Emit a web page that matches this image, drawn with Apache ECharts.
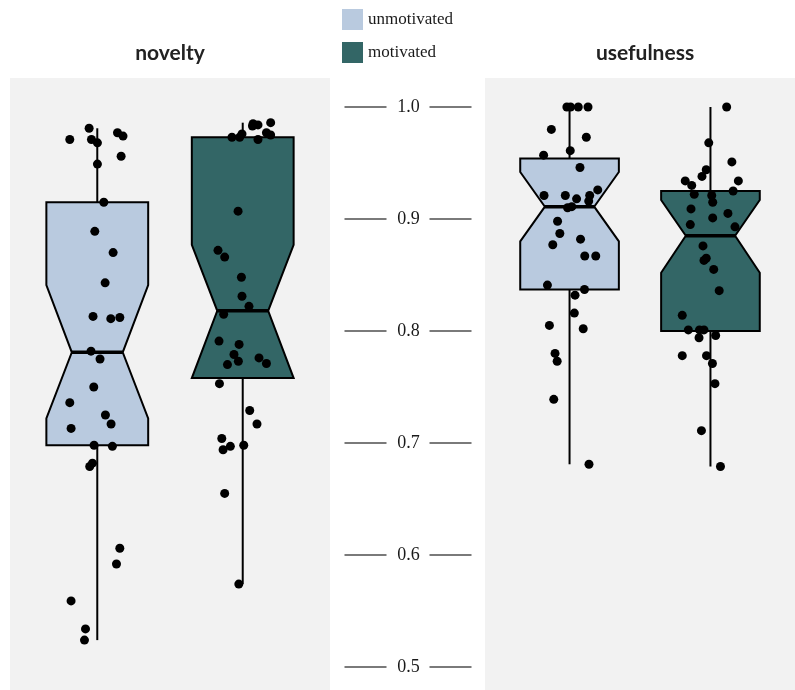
<!DOCTYPE html>
<html>
<head>
<meta charset="utf-8">
<script src="https://cdn.jsdelivr.net/npm/echarts@6/dist/echarts.min.js"></script>
<style>
html, body { margin: 0; padding: 0; background: #ffffff; }
#chart { width: 795px; height: 690px; }
</style>
</head>
<body>
<div id="chart"></div>
<script>
// ---- data ----
const panels = ['novelty', 'usefulness'];
const groups = ['unmotivated', 'motivated'];
const groupColors = ['#b9cadf', '#336666'];
const yTicks = [0.5, 0.6, 0.7, 0.8, 0.9, 1.0];
const yTickLabels = ['0.5', '0.6', '0.7', '0.8', '0.9', '1.0'];

// box summaries: [lower whisker, Q1, notch low, median, notch high, Q3, upper whisker]
const noveltyUnmotivatedBox = [0.524, 0.698, 0.722, 0.781, 0.841, 0.915, 0.981];
const noveltyMotivatedBox   = [0.574, 0.758, 0.758, 0.818, 0.877, 0.973, 0.986];
const usefulUnmotivatedBox  = [0.681, 0.837, 0.880, 0.911, 0.942, 0.954, 1.000];
const usefulMotivatedBox    = [0.679, 0.800, 0.852, 0.885, 0.917, 0.925, 1.000];

// individual ratings
const noveltyUnmotivated = [0.971, 0.981, 0.971, 0.968, 0.977, 0.974, 0.956, 0.949, 0.915, 0.889,
  0.870, 0.843, 0.813, 0.811, 0.812, 0.782, 0.775, 0.750, 0.736, 0.725, 0.717, 0.713, 0.698,
  0.697, 0.682, 0.679, 0.606, 0.592, 0.559, 0.534, 0.524];
const noveltyMotivated = [0.973, 0.973, 0.976, 0.985, 0.984, 0.983, 0.986, 0.977, 0.975, 0.971,
  0.907, 0.872, 0.866, 0.848, 0.831, 0.822, 0.815, 0.791, 0.788, 0.779, 0.773, 0.770, 0.776,
  0.771, 0.753, 0.729, 0.717, 0.704, 0.694, 0.697, 0.698, 0.655, 0.574];
const usefulUnmotivated = [1.000, 1.000, 1.000, 1.000, 0.980, 0.973, 0.961, 0.957, 0.946, 0.921,
  0.921, 0.918, 0.921, 0.916, 0.926, 0.910, 0.911, 0.898, 0.887, 0.882, 0.877, 0.867, 0.867,
  0.841, 0.837, 0.832, 0.816, 0.805, 0.802, 0.780, 0.773, 0.739, 0.681];
const usefulMotivated = [1.000, 0.968, 0.951, 0.944, 0.938, 0.934, 0.930, 0.934, 0.925, 0.922,
  0.921, 0.915, 0.909, 0.905, 0.901, 0.895, 0.893, 0.876, 0.865, 0.863, 0.855, 0.836, 0.814,
  0.801, 0.801, 0.801, 0.794, 0.796, 0.778, 0.778, 0.771, 0.753, 0.711, 0.679];

// horizontal jitter of each rating, in category units
const noveltyUnmotivatedJitter = [-0.189, -0.056, -0.040, 0.001, 0.139, 0.177, 0.164, 0.001, 0.045,
  -0.017, 0.109, 0.054, -0.029, 0.093, 0.155, -0.043, 0.019, -0.024, -0.189, 0.056, 0.095, -0.180,
  -0.022, 0.104, -0.033, -0.052, 0.155, 0.132, -0.180, -0.081, -0.088];
const noveltyMotivatedJitter = [-0.074, -0.021, -0.005, 0.071, 0.105, 0.067, 0.192, 0.163, 0.192,
  0.105, -0.032, -0.170, -0.124, -0.009, -0.005, 0.043, -0.131, -0.163, -0.025, -0.060, -0.030,
  -0.105, 0.112, 0.163, -0.160, 0.048, 0.098, -0.144, -0.135, -0.085, 0.007, -0.124, -0.027];
const usefulUnmotivatedJitter = [-0.019, 0.007, 0.062, 0.131, -0.129, 0.119, 0.005, -0.184, 0.074,
  -0.181, -0.030, 0.050, 0.143, 0.136, 0.200, -0.014, 0.016, -0.085, -0.069, 0.078, -0.119, 0.108,
  0.186, -0.157, 0.106, 0.039, 0.034, -0.143, 0.097, -0.103, -0.088, -0.112, 0.138];
const usefulMotivatedJitter = [0.115, -0.012, 0.152, -0.030, -0.060, -0.179, -0.133, 0.198, 0.161,
  -0.115, 0.009, 0.016, -0.138, 0.124, 0.016, -0.143, 0.174, -0.053, -0.030, -0.046, 0.023, 0.062,
  -0.200, -0.157, -0.078, -0.046, -0.081, 0.037, -0.200, -0.028, 0.014, 0.032, -0.064, 0.071];

// ---- layout ----
const Y_MIN = 0.47946, Y_MAX = 1.02589;
const BOX_HALF = 0.35;       // half box width, category units
const NOTCH_HALF = 0.175;    // half width at the median notch
const panelGridIdx = [0, 2];

const chart = echarts.init(document.getElementById('chart'), null, { renderer: 'canvas' });

function renderBox(params, api) {
  const cx = api.value(0);
  const v = [1, 2, 3, 4, 5, 6, 7].map(i => api.value(i));
  const [low, q1, nlo, med, nhi, q3, high] = v;
  const p = (x, y) => api.coord([x, y]);
  const color = api.visual('color');
  const poly = [
    p(cx - BOX_HALF, q3), p(cx + BOX_HALF, q3), p(cx + BOX_HALF, nhi), p(cx + NOTCH_HALF, med),
    p(cx + BOX_HALF, nlo), p(cx + BOX_HALF, q1), p(cx - BOX_HALF, q1), p(cx - BOX_HALF, nlo),
    p(cx - NOTCH_HALF, med), p(cx - BOX_HALF, nhi)
  ];
  const lineStyle = { stroke: '#000', lineWidth: 2, fill: null };
  const top = p(cx, q3), hi = p(cx, high), bot = p(cx, q1), lo = p(cx, low);
  const mL = p(cx - NOTCH_HALF, med), mR = p(cx + NOTCH_HALF, med);
  return {
    type: 'group',
    children: [
      { type: 'line', shape: { x1: top[0], y1: top[1], x2: hi[0], y2: hi[1] }, style: lineStyle },
      { type: 'line', shape: { x1: bot[0], y1: bot[1], x2: lo[0], y2: lo[1] }, style: lineStyle },
      { type: 'polygon', shape: { points: poly }, style: { fill: color, stroke: '#000', lineWidth: 2, lineJoin: 'miter' } },
      { type: 'line', shape: { x1: mL[0], y1: mL[1], x2: mR[0], y2: mR[1] }, style: { stroke: '#000', lineWidth: 3.5 } }
    ]
  };
}

function renderTicks(params, api) {
  const c = api.coord([0.5, api.value(0)]);
  const label = yTickLabels[params.dataIndex];
  const gray = { stroke: '#7a7a7a', lineWidth: 2 };
  return {
    type: 'group',
    children: [
      { type: 'line', shape: { x1: c[0] - 63, y1: c[1], x2: c[0] - 21, y2: c[1] }, style: gray },
      { type: 'line', shape: { x1: c[0] + 22, y1: c[1], x2: c[0] + 64, y2: c[1] }, style: gray },
      { type: 'text', x: c[0] + 1, y: c[1], style: { text: label, fill: '#1a1a1a', font: '18px "Liberation Serif", "DejaVu Serif", serif', align: 'center', verticalAlign: 'middle' } }
    ]
  };
}

const boxes = [
  [noveltyUnmotivatedBox, noveltyMotivatedBox],
  [usefulUnmotivatedBox, usefulMotivatedBox]
];
const points = [
  [[noveltyUnmotivated, noveltyUnmotivatedJitter], [noveltyMotivated, noveltyMotivatedJitter]],
  [[usefulUnmotivated, usefulUnmotivatedJitter], [usefulMotivated, usefulMotivatedJitter]]
];

const series = [];
panels.forEach((panel, pi) => {
  const gi = panelGridIdx[pi];
  groups.forEach((g, k) => {
    series.push({
      type: 'custom', name: g, xAxisIndex: gi, yAxisIndex: gi,
      itemStyle: { color: groupColors[k] },
      renderItem: renderBox,
      encode: { x: 0, y: [1, 2, 3, 4, 5, 6, 7] },
      data: [[k + 1].concat(boxes[pi][k])],
      z: 2, silent: true
    });
  });
  groups.forEach((g, k) => {
    const [vals, jit] = points[pi][k];
    series.push({
      type: 'scatter', name: g + ' ratings', xAxisIndex: gi, yAxisIndex: gi,
      symbol: 'circle', symbolSize: 9,
      itemStyle: { color: '#000', opacity: 1 },
      data: vals.map((v, i) => [k + 1 + jit[i], v]),
      z: 5, silent: true
    });
  });
});

series.push({
  type: 'custom', name: 'axis', xAxisIndex: 1, yAxisIndex: 1,
  renderItem: renderTicks,
  encode: { y: 0 },
  data: yTicks.map(t => [t]),
  silent: true
});

const grids = [
  { left: 10, top: 78, width: 320, height: 612 },
  { left: 330, top: 78, width: 155, height: 612 },
  { left: 485, top: 78, width: 319, height: 612 }
].map((g, i) => Object.assign(g, {
  show: i !== 1, backgroundColor: '#f2f2f2', borderWidth: 0, containLabel: false
}));

const hiddenY = i => ({ type: 'value', gridIndex: i, min: Y_MIN, max: Y_MAX, show: false });

const option = {
  animation: false,
  backgroundColor: '#ffffff',
  grid: grids,
  xAxis: [
    { type: 'value', gridIndex: 0, min: 0.4, max: 2.6, show: false },
    { type: 'value', gridIndex: 1, min: 0, max: 1, show: false },
    { type: 'value', gridIndex: 2, min: 0.4, max: 2.6, show: false }
  ],
  yAxis: [hiddenY(0), hiddenY(1), hiddenY(2)],
  legend: {
    data: groups.map((g, k) => ({ name: g, itemStyle: { color: groupColors[k] } })),
    orient: 'vertical', left: 342, top: 9,
    itemWidth: 21, itemHeight: 21, itemGap: 12, icon: 'rect',
    padding: 0, selectedMode: false,
    textStyle: { fontFamily: '"Liberation Serif", "DejaVu Serif", serif', fontSize: 17, color: '#1a1a1a' }
  },
  graphic: panels.map((t, i) => ({
    type: 'text', x: i === 0 ? 170 : 645, y: 53,
    style: { text: t, font: 'bold 21px Lato, "Open Sans", sans-serif', fill: '#222', align: 'center', verticalAlign: 'middle' }
  })),
  series: series
};

chart.setOption(option);
</script>
</body>
</html>
